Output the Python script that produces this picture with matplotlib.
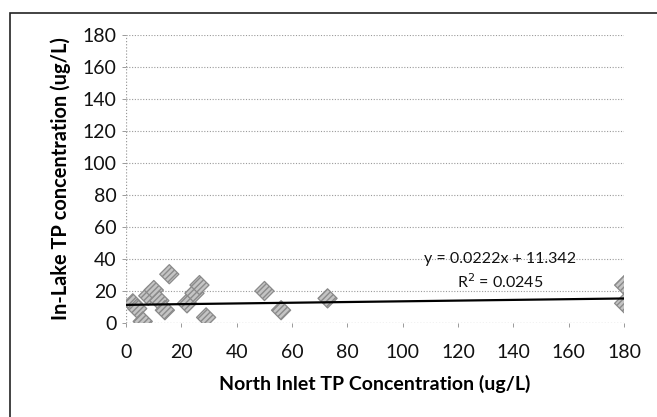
import matplotlib
matplotlib.use('Agg')
import matplotlib.pyplot as plt
from matplotlib.patches import Rectangle
import numpy as np

# North inlet vs in-lake TP
inlet_tp = [2.4, 4, 6, 8, 10, 12, 14, 15.6, 22, 24.7, 26.5, 28.9, 50, 56, 72.8, 180, 180]
lake_tp = [12.3, 9, 1, 17, 20.6, 14, 8, 30.5, 12.3, 18.6, 23.7, 3.5, 20, 8, 15.4, 23.7, 12.3]

slope = 0.0222
intercept = 11.342
r_squared = 0.0245

x_ticks = [0, 20, 40, 60, 80, 100, 120, 140, 160, 180]
y_ticks = [0, 20, 40, 60, 80, 100, 120, 140, 160, 180]

plt.rcParams['font.family'] = ['Lato', 'DejaVu Sans']

fig = plt.figure(figsize=(6.57, 4.17), dpi=100)
ax = fig.add_axes([0.192, 0.2254, 0.758, 0.6906])

# outer chart border (cropped scan, so only top and left show)
fig.patches.append(Rectangle((10/657, -0.1), 1.2, 0.1 + 1 - 13/417, transform=fig.transFigure,
                             fill=False, edgecolor='#222222', linewidth=1.2))

for yv in y_ticks[1:]:
    ax.axhline(yv, color='#9a9a9a', linestyle=(0, (1, 1.5)), linewidth=0.8, zorder=1)
ax.axhline(0, color='#9a9a9a', linestyle=(0, (1, 1.5)), linewidth=0.9, zorder=1)
ax.axvline(0, color='#9a9a9a', linestyle=(0, (1, 1.5)), linewidth=0.9, zorder=1)

ax.scatter(inlet_tp, lake_tp, marker='D', s=95, facecolor='#c4c4c4', edgecolor='#8a8a8a',
           linewidth=0.9, hatch='//////', zorder=3)

xs = np.array([0, max(inlet_tp)])
ax.plot(xs, slope * xs + intercept, color='black', linewidth=1.6, zorder=4)

ax.text(500/657, 1 - 259/417, 'y = %.4fx + %.3f' % (slope, intercept), transform=fig.transFigure,
        ha='center', va='center', fontsize=11.5, color='#111111')
ax.text(500/657, 1 - 282/417, 'R$^2$ = %.4f' % r_squared, transform=fig.transFigure,
        ha='center', va='center', fontsize=11.5, color='#111111')

ax.set_xlim(0, 180)
ax.set_ylim(0, 180)
ax.set_xticks(x_ticks)
ax.set_yticks(y_ticks)
for s in ax.spines.values():
    s.set_visible(False)
ax.tick_params(axis='both', length=3, width=0.7, color='#9a9a9a', labelsize=14, labelcolor='#111111')
ax.tick_params(axis='x', pad=12)
ax.tick_params(axis='y', pad=4)

ax.set_xlabel('North Inlet TP Concentration (ug/L)', fontsize=14, fontweight='bold', labelpad=10)
ax.set_ylabel('In-Lake TP concentration (ug/L)', fontsize=14.4, fontweight='bold', labelpad=8)

fig.savefig('out.png', dpi=100)
